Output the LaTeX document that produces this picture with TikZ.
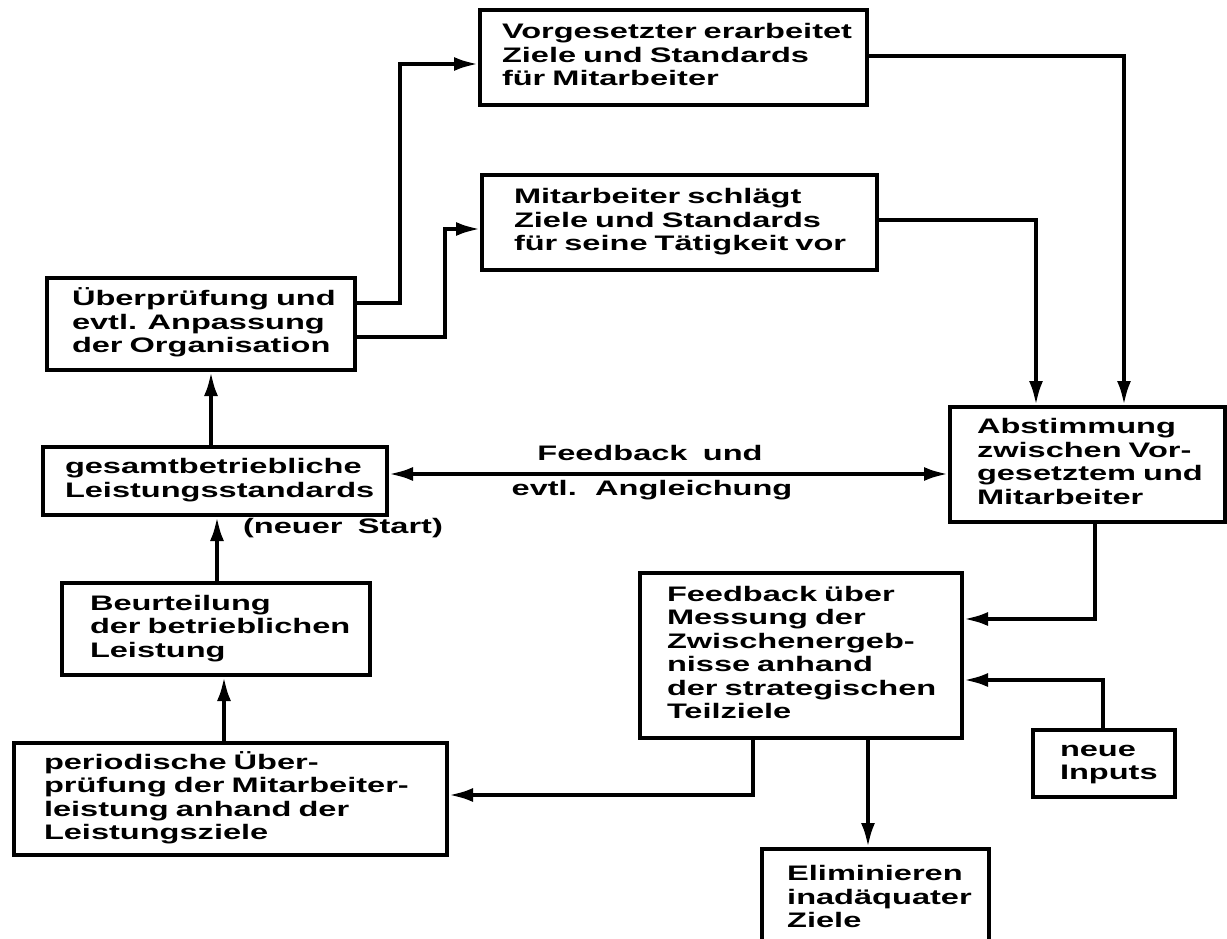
\documentclass[tikz,border=0pt]{standalone}
\usepackage{fontspec}
\setmainfont{Liberation Sans}[FakeStretch=1.55,WordSpace=1.7]
\usetikzlibrary{arrows.meta}
\newcommand{\mylines}[1]{\begin{tabular}{@{}l@{}}#1\end{tabular}}
\begin{document}
\begin{tikzpicture}[x=1pt,y=-1pt,
  txt/.style={font=\fontsize{21}{23.5}\selectfont\bfseries},
  box/.style={draw, line width=4pt, align=left, inner ysep=0pt, txt},
  arr/.style={line width=3.8pt, -{Latex[length=24pt,width=14pt]}},
  arrtwo/.style={line width=3.8pt, {Latex[length=24pt,width=14pt]}-{Latex[length=24pt,width=14pt]}}]
\clip (0,0) rectangle (1227,939);
\fill[white] (0,0) rectangle (1227,939);

\node[box, minimum width=387pt, minimum height=95pt, inner xsep=22pt, text width=343pt] (vg) at (673.5,57.5)
  {\mylines{Vorgesetzter erarbeitet\\Ziele und Standards\\für Mitarbeiter}};
\node[box, minimum width=395pt, minimum height=95pt, inner xsep=32pt, text width=331pt] (ms) at (679.5,222.5)
  {\mylines{Mitarbeiter schlägt\\Ziele und Standards\\für seine Tätigkeit vor}};
\node[box, minimum width=308pt, minimum height=92pt, inner xsep=25pt, text width=258pt] (org) at (201,324)
  {\mylines{Überprüfung und\\evtl. Anpassung\\der Organisation}};
\node[box, minimum width=344pt, minimum height=68pt, inner xsep=22pt, text width=300pt] (gs) at (215,481)
  {\mylines{gesamtbetriebliche\\Leistungsstandards}};
\node[box, minimum width=308pt, minimum height=92pt, inner xsep=28pt, text width=252pt] (bt) at (216,629)
  {\mylines{Beurteilung\\der betrieblichen\\Leistung}};
\node[box, minimum width=433pt, minimum height=112pt, inner xsep=30pt, text width=373pt] (pu) at (230.5,799)
  {\mylines{periodische Über-\\prüfung der Mitarbeiter-\\leistung anhand der\\Leistungsziele}};
\node[box, minimum width=275pt, minimum height=115pt, inner xsep=27pt, text width=221pt] (ab) at (1087.5,464.5)
  {\mylines{Abstimmung\\zwischen Vor-\\gesetztem und\\Mitarbeiter}};
\node[box, minimum width=322pt, minimum height=165pt, inner xsep=27pt, text width=268pt] (fb) at (801,655.5)
  {\mylines{Feedback über\\Messung der\\Zwischenergeb-\\nisse anhand\\der strategischen\\Teilziele}};
\node[box, minimum width=142pt, minimum height=67pt, inner xsep=27pt, text width=88pt] (ni) at (1104,763.5)
  {\mylines{neue\\Inputs}};
\node[box, minimum width=227pt, minimum height=160pt, anchor=north west] (el) at (760,847) {};
\node[txt, align=left, anchor=north west, inner sep=0pt] (eltext) at (787,864)
  {\mylines{Eliminieren\\inadäquater\\Ziele}};

\node[txt] (lfb) at (650,453) {Feedback und};
\node[txt] (lev) at (652,490) {evtl. Angleichung};
\node[txt] (lns) at (343,528) {(neuer Start)};

\coordinate (c1) at (400,303);
\coordinate (c2) at (445,337);
\draw[arr] (org.east |- c1) -- (c1) |- (vg.west |- 0,64);
\draw[arr] (org.east |- c2) -- (c2) |- (ms.west |- 0,229);
\draw[arr] (vg.east |- 0,56) -| (ab.north -| 1124,0);
\draw[arr] (ms.east |- 0,220) -| (ab.north -| 1036,0);
\draw[arrtwo] (gs.east |- 0,474) -- (ab.west |- 0,474);
\draw[arr] (gs.north -| 211,0) -- (org.south -| 211,0);
\draw[arr] (bt.north -| 217,0) -- (gs.south -| 217,0);
\draw[arr] (pu.north -| 224,0) -- (bt.south -| 224,0);
\draw[arr] (ab.south -| 1095,0) |- (fb.east |- 0,619);
\draw[arr] (ni.north -| 1103,0) |- (fb.east |- 0,680);
\draw[arr] (fb.south -| 753,0) |- (pu.east |- 0,795);
\draw[arr] (fb.south -| 868,0) -- (el.north -| 868,0);
\end{tikzpicture}
\end{document}
